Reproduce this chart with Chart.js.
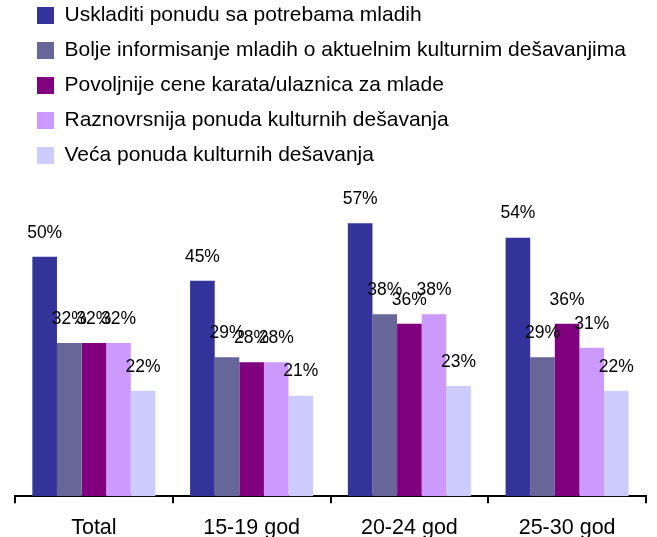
<!DOCTYPE html>
<html>
<head>
<meta charset="utf-8">
<script src="https://cdn.jsdelivr.net/npm/chart.js"></script>
<style>
  html, body { margin: 0; padding: 0; background: #fff; }
  #wrap { width: 657px; height: 537px; }
</style>
</head>
<body>
<div id="wrap"><canvas id="chart"></canvas></div>
<script>
  const categories = ['Total', '15-19 god', '20-24 god', '25-30 god'];
  const seriesNames = [
    'Uskladiti ponudu sa potrebama mladih',
    'Bolje informisanje mladih o aktuelnim kulturnim dešavanjima',
    'Povoljnije cene karata/ulaznica za mlade',
    'Raznovrsnija ponuda kulturnih dešavanja',
    'Veća ponuda kulturnih dešavanja'
  ];
  const uskladiti = [50, 45, 57, 54];
  const informisanje = [32, 29, 38, 29];
  const cene = [32, 28, 36, 36];
  const raznovrsnija = [32, 28, 38, 31];
  const vecaPonuda = [22, 21, 23, 22];
  const colors = ['#333399', '#666699', '#800080', '#CC99FF', '#CCCCFF'];

  const seriesValues = [uskladiti, informisanje, cene, raznovrsnija, vecaPonuda];
  const font = 'Liberation Sans, Arial, sans-serif';

  // move the legend block to where it sits in the original
  const legendShift = {
    id: 'legendShift',
    afterLayout(chart) {
      const l = chart.legend;
      l.left += 8; l.right += 8;
      l.top -= 9; l.bottom -= 9;
    }
  };

  // percentage labels above each bar
  const valueLabels = {
    id: 'valueLabels',
    afterDatasetsDraw(chart) {
      const ctx = chart.ctx;
      ctx.save();
      ctx.font = '17.5px ' + font;
      ctx.fillStyle = '#000';
      ctx.textAlign = 'center';
      ctx.textBaseline = 'middle';
      chart.data.datasets.forEach((ds, i) => {
        chart.getDatasetMeta(i).data.forEach((bar, j) => {
          ctx.fillText(ds.data[j] + '%', bar.x, bar.y - 24);
        });
      });
      ctx.restore();
    }
  };

  const ctx = document.getElementById('chart').getContext('2d');
  new Chart(ctx, {
    type: 'bar',
    data: {
      labels: categories,
      datasets: seriesNames.map((name, i) => ({
        label: name,
        data: seriesValues[i],
        backgroundColor: colors[i],
        borderWidth: 0,
        categoryPercentage: 0.78,
        barPercentage: 1
      }))
    },
    options: {
      responsive: true,
      maintainAspectRatio: false,
      animation: false,
      layout: { padding: { left: 15, right: 11, top: 0, bottom: -16 } },
      plugins: {
        tooltip: { enabled: false },
        legend: {
          position: 'top',
          align: 'start',
          labels: {
            boxWidth: 17,
            boxHeight: 17,
            padding: 14,
            color: '#000',
            font: { family: font, size: 21 }
          }
        }
      },
      scales: {
        x: {
          grid: {
            offset: true,
            drawOnChartArea: false,
            color: '#000',
            lineWidth: 2,
            tickLength: 7
          },
          border: { color: '#000', width: 2 },
          ticks: {
            color: '#000',
            padding: 12,
            font: { family: font, size: 21.5 }
          }
        },
        y: {
          display: false,
          min: 0,
          max: 65
        }
      }
    },
    plugins: [legendShift, valueLabels]
  });
</script>
</body>
</html>
